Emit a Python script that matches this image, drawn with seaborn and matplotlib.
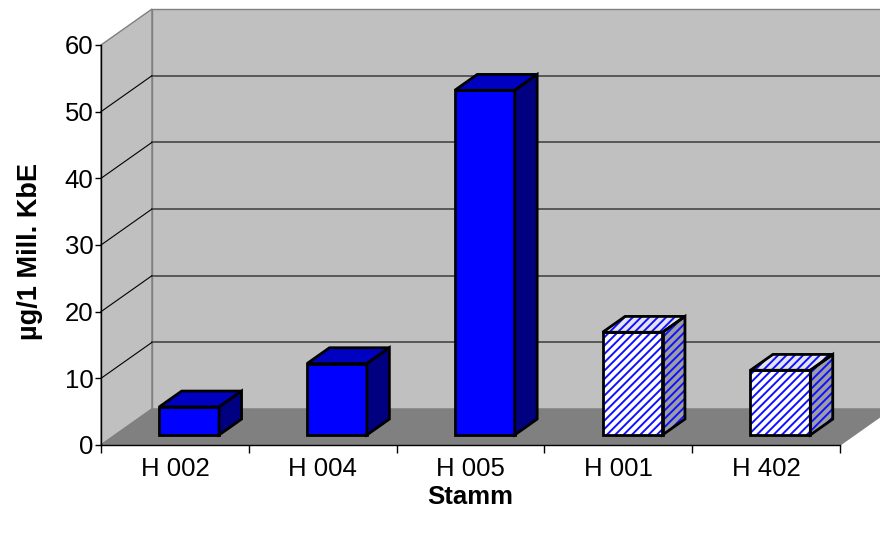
import matplotlib
matplotlib.use("Agg")
import matplotlib.pyplot as plt
from matplotlib.patches import Polygon, Rectangle
import seaborn as sns
import pandas as pd

# Data
strains = ["H 002", "H 004", "H 005", "H 001", "H 402"]
values = [4.2, 10.7, 51.7, 15.4, 9.7]
hatched = [False, False, False, True, True]
yticks = [0, 10, 20, 30, 40, 50, 60]

plt.rcParams["font.family"] = ["Liberation Sans", "DejaVu Sans"]
plt.rcParams["hatch.linewidth"] = 1.4

W, H = 880, 538
fig = plt.figure(figsize=(W / 100, H / 100), dpi=100)
fig.patch.set_facecolor("white")

# front plane of the pseudo-3D box, in pixels
L, R, B, T = 101, 840, 445, 45
ax = fig.add_axes([L / W, 1 - B / H, (R - L) / W, (B - T) / H])
ax.patch.set_visible(False)

df = pd.DataFrame({"Stamm": strains, "Wert": values})
sns.barplot(data=df, x="Stamm", y="Wert", width=0.405, color="#0000FF",
            saturation=1, edgecolor="black", linewidth=2.0, ax=ax, zorder=3)
ax.set_xlim(-0.5, 4.5)
ax.set_ylim(0, 60)

# oblique depth offset (full depth) converted to data units
DEPTH_PX = (51, 36)
dxu = DEPTH_PX[0] * 5.0 / (R - L)
dyu = DEPTH_PX[1] * 60.0 / (B - T)


def proj(x, y, f):
    return (x + f * dxu, y + f * dyu)


def poly(pts, **kw):
    kw.setdefault("clip_on", False)
    p = Polygon(pts, closed=True, **kw)
    ax.add_patch(p)
    return p


WALL = "#C0C0C0"
FLOOR = "#808080"
EDGE = "#808080"

# walls and floor
poly([proj(-0.5, 0, 0), proj(-0.5, 60, 0), proj(-0.5, 60, 1), proj(-0.5, 0, 1)],
     facecolor=WALL, edgecolor=EDGE, lw=1, zorder=0)
poly([proj(-0.5, 0, 1), proj(-0.5, 60, 1), proj(4.5, 60, 1), proj(4.5, 0, 1)],
     facecolor=WALL, edgecolor=EDGE, lw=1, zorder=0)
poly([proj(-0.5, 0, 0), proj(4.5, 0, 0), proj(4.5, 0, 1), proj(-0.5, 0, 1)],
     facecolor=FLOOR, edgecolor=FLOOR, lw=1, zorder=0.5)

# gridlines on the back wall and the side wall
for v in yticks[1:-1]:
    x0, y0 = proj(-0.5, v, 1)
    x1, y1 = proj(4.5, v, 1)
    ax.plot([x0, x1], [y0, y1], color="#505050", lw=1.3, zorder=1, clip_on=False)
    xa, ya = proj(-0.5, v, 0)
    ax.plot([xa, x0], [ya, y0], color="black", lw=0.8, zorder=1, clip_on=False)

# turn the flat bars into blocks
F1, F2 = 0.28, 0.72
HATCH = "////"
LW = 2.0
for p, hat in zip(ax.patches[:], hatched):
    x0 = p.get_x()
    w = p.get_width()
    h = p.get_height()
    x1 = x0 + w
    p.set_x(x0 + F1 * dxu)
    p.set_y(F1 * dyu)
    p.set_clip_on(False)
    p.set_joinstyle("miter")
    top = [proj(x0, h, F1), proj(x1, h, F1), proj(x1, h, F2), proj(x0, h, F2)]
    side = [proj(x1, 0, F1), proj(x1, 0, F2), proj(x1, h, F2), proj(x1, h, F1)]
    if not hat:
        poly(top, facecolor="#0000C0", edgecolor="black", lw=LW, zorder=3,
             joinstyle="miter")
        poly(side, facecolor="#000080", edgecolor="black", lw=LW, zorder=3,
             joinstyle="miter")
    else:
        p.set_facecolor("white")
        p.set_edgecolor("#1010FF")
        p.set_hatch(HATCH)
        p.set_linewidth(0)
        fx, fy = proj(x0, 0, F1)
        ax.add_patch(Rectangle((fx, fy), w, h, fill=False, edgecolor="black",
                               lw=LW, zorder=4, clip_on=False, joinstyle="miter"))
        poly(top, facecolor="#E4E4EC", edgecolor="#1010FF", lw=0, hatch=HATCH, zorder=3)
        poly(side, facecolor="#9C9CA4", edgecolor="#1010FF", lw=0, hatch=HATCH, zorder=3)
        poly(top, fill=False, edgecolor="black", lw=LW, zorder=4, joinstyle="miter")
        poly(side, fill=False, edgecolor="black", lw=LW, zorder=4, joinstyle="miter")

# axes, ticks and labels
for s in ["top", "right"]:
    ax.spines[s].set_visible(False)
for s in ["left", "bottom"]:
    ax.spines[s].set_color("black")
    ax.spines[s].set_linewidth(1)
    ax.spines[s].set_zorder(5)

ax.set_yticks(yticks)
ax.set_yticklabels([str(v) for v in yticks])
ax.tick_params(axis="y", direction="out", length=4, width=1, pad=1.5,
               labelsize=18.5, colors="black")
ax.set_xticks(range(len(strains)))
ax.set_xticklabels(strains)
ax.set_xticks([i - 0.5 for i in range(len(strains) + 1)], minor=True)
ax.tick_params(axis="x", which="major", length=0, pad=9, labelsize=18.5)
ax.tick_params(axis="x", which="minor", direction="out", length=5.5, width=1)
ax.set_xlabel("")
ax.set_ylabel("")

fig.text(30 / W, 1 - 251 / H, "µg/1 Mill. KbE", rotation=90, ha="center",
         va="center", fontsize=19.5, fontweight="bold")
fig.text(470 / W, 1 - 497 / H, "Stamm", ha="center", va="center",
         fontsize=18.5, fontweight="bold")

fig.savefig("out.png", dpi=100, facecolor="white")
